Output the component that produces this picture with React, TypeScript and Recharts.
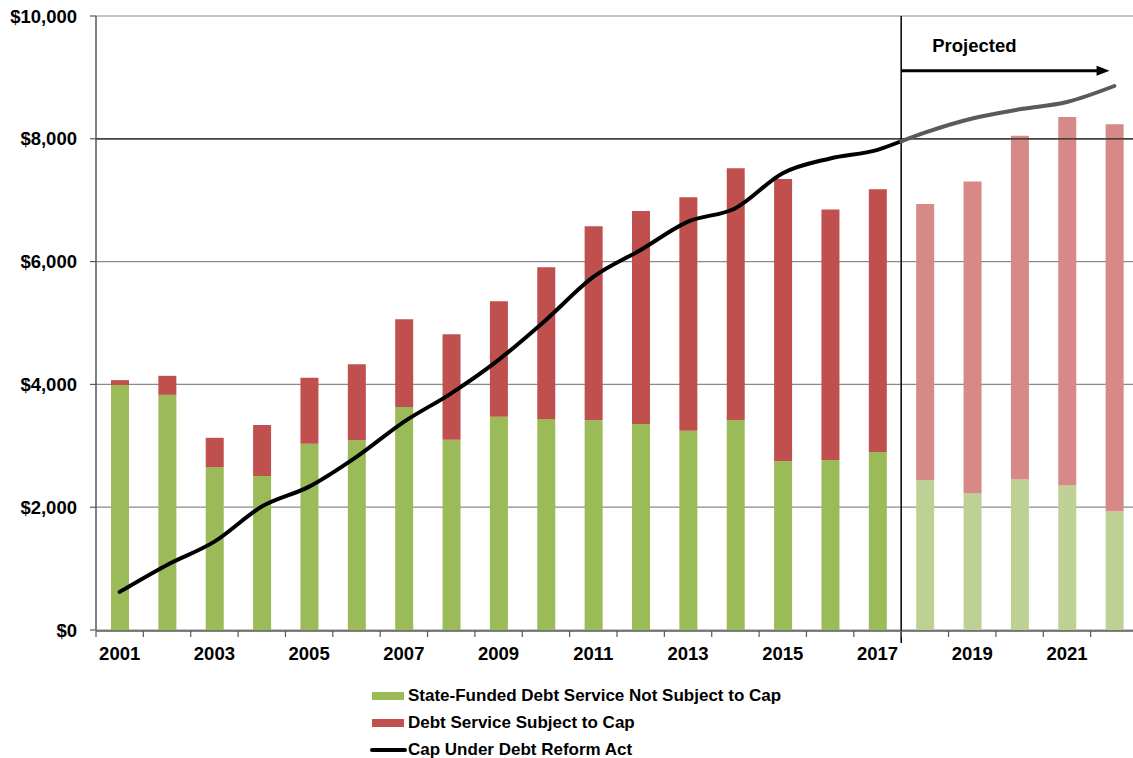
import React from 'react';
import { ComposedChart, Bar, Line, XAxis, YAxis, CartesianGrid, ReferenceLine, Cell } from 'recharts';

// ---------- data ----------
const years = [2001, 2002, 2003, 2004, 2005, 2006, 2007, 2008, 2009, 2010, 2011, 2012, 2013, 2014, 2015, 2016, 2017, 2018, 2019, 2020, 2021, 2022];
const notSubjectToCap = [3990, 3830, 2650, 2510, 3035, 3090, 3630, 3100, 3475, 3435, 3420, 3355, 3245, 3420, 2750, 2770, 2900, 2440, 2225, 2450, 2355, 1935];
const subjectToCap = [80, 310, 480, 830, 1075, 1240, 1430, 1715, 1880, 2475, 3155, 3470, 3805, 4100, 4595, 4080, 4280, 4500, 5080, 5600, 6000, 6300];

const capYears = [2001, 2002, 2003, 2004, 2005, 2006, 2007, 2008, 2009, 2010, 2011, 2012, 2013, 2014, 2015, 2016, 2017, 2017.5];
const capValues = [620, 1060, 1440, 2010, 2335, 2820, 3390, 3855, 4400, 5050, 5750, 6190, 6650, 6870, 7440, 7680, 7820, 7960];
const capProjYears = [2017.5, 2018, 2019, 2020, 2021, 2022];
const capProjValues = [7960, 8100, 8330, 8480, 8600, 8860];

const yTicks = [0, 2000, 4000, 6000, 8000, 10000];
const firstProjectedYear = 2018;
const projectionStart = 2017.5;
const arrowEnd = 2021.9;
const arrowLevel = 9110;

const legendItems = [
  { label: 'State-Funded Debt Service Not Subject to Cap', kind: 'rect', color: '#9BBB59' },
  { label: 'Debt Service Subject to Cap', kind: 'rect', color: '#C0504D' },
  { label: 'Cap Under Debt Reform Act', kind: 'line', color: '#000000' },
];

// ---------- derived ----------
const barData = years.map((y, i) => ({
  year: String(y),
  x: y,
  notCapped: notSubjectToCap[i],
  capped: subjectToCap[i],
  projected: y >= firstProjectedYear,
}));
const capActual = capYears.map((x, i) => ({ x, cap: capValues[i] }));
const capProjected = capProjYears.map((x, i) => ({ x, cap: capProjValues[i] }));
const boundaryTicks = [...years.map((y) => y - 0.5), years[years.length - 1] + 0.5];

const FONT = '"Liberation Sans", Arial, Helvetica, sans-serif';
const GREEN = '#9BBB59';
const GREEN_LIGHT = '#BED194';
const RED = '#C0504D';
const RED_LIGHT = '#D68986';
const AXIS = '#595959';

const fmt = (v: number) => '$' + v.toLocaleString('en-US');

const ArrowShape = (props: any) => {
  const { x1, y1, x2, y2 } = props;
  return (
    <g>
      <text x={x1 + 31} y={y1 - 19} fontSize={18.5} fontWeight="bold" fontFamily={FONT} fill="#000">
        Projected
      </text>
      <line x1={x1} y1={y1} x2={x2 - 10} y2={y2} stroke="#000" strokeWidth={3} />
      <polygon points={`${x2},${y2} ${x2 - 13},${y2 - 5} ${x2 - 13},${y2 + 5}`} fill="#000" />
    </g>
  );
};

export default function App() {
  return (
    <div
      style={{
        position: 'relative',
        width: 1133,
        height: 758,
        overflow: 'hidden',
        background: '#fff',
        fontFamily: FONT,
      }}
    >
      <style>{'html,body{margin:0;padding:0;}'}</style>
      <ComposedChart
        width={1138}
        height={680}
        data={barData}
        margin={{ top: 16, right: 0, bottom: 48, left: 0 }}
      >
        <CartesianGrid xAxisId="cat" vertical={false} stroke="#8a8a8a" strokeWidth={1.2} />
        <XAxis
          xAxisId="num"
          type="number"
          dataKey="x"
          domain={[2000.5, 2022.5]}
          allowDataOverflow
          ticks={boundaryTicks}
          interval={0}
          tickFormatter={() => ''}
          tickSize={6}
          height={1}
          axisLine={{ stroke: AXIS, strokeWidth: 1.5 }}
          tickLine={{ stroke: AXIS, strokeWidth: 1.2 }}
        />
        <XAxis
          xAxisId="cat"
          dataKey="year"
          interval={1}
          tickLine={false}
          axisLine={false}
          tickSize={0}
          tickMargin={17}
          height={1}
          tick={{ fontSize: 18.5, fontWeight: 'bold', fill: '#000', fontFamily: FONT }}
        />
        <YAxis
          width={96}
          domain={[0, 10000]}
          ticks={yTicks}
          tickFormatter={fmt}
          tickSize={6}
          tickMargin={13}
          axisLine={{ stroke: AXIS, strokeWidth: 1.5 }}
          tickLine={{ stroke: AXIS, strokeWidth: 1.2 }}
          tick={{ fontSize: 18.5, fontWeight: 'bold', fill: '#000', fontFamily: FONT }}
        />
        <ReferenceLine xAxisId="cat" y={8000} stroke="#222" strokeWidth={1.2} />
        <Bar dataKey="notCapped" stackId="a" xAxisId="cat" barSize={18} isAnimationActive={false}>
          {barData.map((d, i) => (
            <Cell key={'g' + i} fill={d.projected ? GREEN_LIGHT : GREEN} />
          ))}
        </Bar>
        <Bar dataKey="capped" stackId="a" xAxisId="cat" barSize={18} isAnimationActive={false}>
          {barData.map((d, i) => (
            <Cell key={'r' + i} fill={d.projected ? RED_LIGHT : RED} />
          ))}
        </Bar>
        <ReferenceLine
          xAxisId="num"
          segment={[
            { x: projectionStart, y: -210 },
            { x: projectionStart, y: 10000 },
          ]}
          stroke="#000"
          strokeWidth={1.5}
          ifOverflow="visible"
        />
        <Line
          xAxisId="num"
          data={capActual}
          dataKey="cap"
          type="monotone"
          stroke="#000"
          strokeWidth={4}
          strokeLinecap="round"
          dot={false}
          activeDot={false}
          isAnimationActive={false}
        />
        <Line
          xAxisId="num"
          data={capProjected}
          dataKey="cap"
          type="monotone"
          stroke="#5a5a5a"
          strokeWidth={4}
          strokeLinecap="round"
          dot={false}
          activeDot={false}
          isAnimationActive={false}
        />
        <ReferenceLine
          xAxisId="num"
          segment={[
            { x: projectionStart, y: arrowLevel },
            { x: arrowEnd, y: arrowLevel },
          ]}
          ifOverflow="visible"
          shape={ArrowShape}
        />
      </ComposedChart>
      <div style={{ position: 'absolute', left: 370, top: 683 }}>
        {legendItems.map((it) => (
          <div
            key={it.label}
            style={{
              display: 'flex',
              alignItems: 'center',
              height: 26.8,
              fontSize: 17,
              fontWeight: 'bold',
              color: '#000',
              whiteSpace: 'nowrap',
            }}
          >
            {it.kind === 'rect' ? (
              <div style={{ width: 32, height: 8, background: it.color, marginLeft: 2, marginRight: 4 }} />
            ) : (
              <div style={{ width: 37, height: 4, borderRadius: 2, background: it.color, marginRight: 1 }} />
            )}
            <span>{it.label}</span>
          </div>
        ))}
      </div>
    </div>
  );
}
